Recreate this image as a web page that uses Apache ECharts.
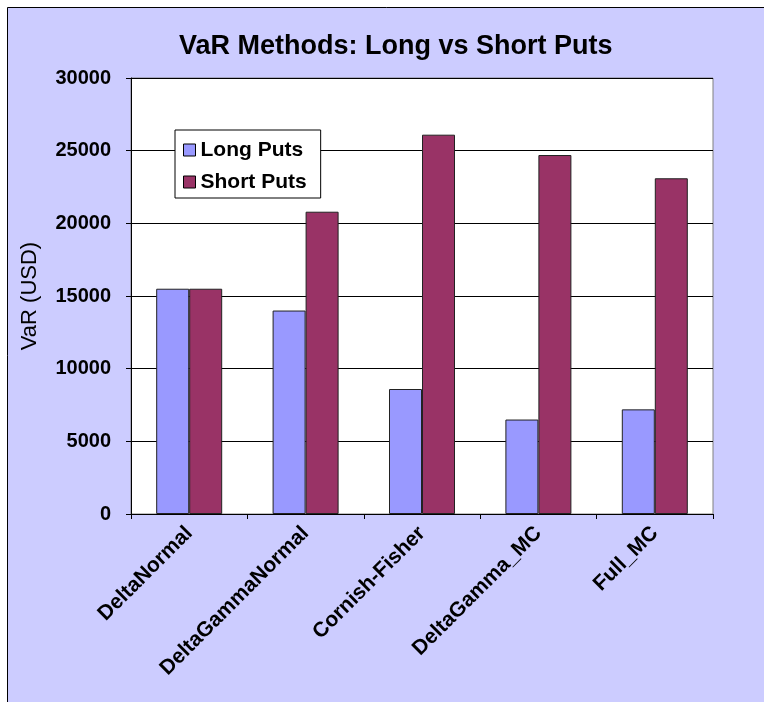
<!DOCTYPE html>
<html>
<head>
<meta charset="utf-8">
<script src="https://cdn.jsdelivr.net/npm/echarts@6/dist/echarts.min.js"></script>
<style>
  html, body { margin: 0; padding: 0; background: #fff; }
  #chart { width: 764px; height: 702px; }
</style>
</head>
<body>
<div id="chart"></div>
<script>
// 数据
var categories = ['DeltaNormal', 'DeltaGammaNormal', 'Cornish-Fisher', 'DeltaGamma_MC', 'Full_MC'];
var longPuts = [15500, 14000, 8600, 6500, 7200];
var shortPuts = [15500, 20800, 26100, 24700, 23100];
var yTicks = [0, 5000, 10000, 15000, 20000, 25000, 30000];

var myChart = echarts.init(document.getElementById('chart'));

var labelFont = 'Liberation Sans, Arial, sans-serif';

var option = {
    animation: false,
    backgroundColor: '#fff',
    // 外框 + 淡紫背景
    graphic: [{
        type: 'rect',
        z: -10,
        shape: { x: 7.5, y: 7.5, width: 900, height: 900 },
        style: { fill: '#CCCCFF', stroke: '#000', lineWidth: 1 }
    }],
    title: {
        text: 'VaR Methods: Long vs Short Puts',
        left: 174,
        top: 28,
        textStyle: {
            fontFamily: labelFont,
            fontWeight: 'bold',
            fontSize: 27,
            color: '#000'
        }
    },
    legend: {
        orient: 'vertical',
        left: 175,
        top: 130,
        data: ['Long Puts', 'Short Puts'],
        icon: 'rect',
        itemWidth: 12,
        itemHeight: 12,
        itemGap: 8,
        padding: [8, 14, 4, 8],
        backgroundColor: '#fff',
        borderColor: '#000',
        borderWidth: 1,
        borderRadius: 0,
        itemStyle: { borderColor: '#000', borderWidth: 1 },
        textStyle: {
            fontFamily: labelFont,
            fontWeight: 'bold',
            fontSize: 21,
            lineHeight: 24,
            color: '#000'
        }
    },
    grid: {
        show: true,
        left: 131,
        top: 78,
        width: 582,
        height: 436,
        backgroundColor: '#fff',
        borderColor: '#808080',
        borderWidth: 1
    },
    xAxis: {
        type: 'category',
        data: categories,
        axisLine: { lineStyle: { color: '#000', width: 1 } },
        axisTick: { show: true, length: 5, lineStyle: { color: '#000' } },
        axisLabel: {
            rotate: 45,
            margin: 16,
            interval: 0,
            fontFamily: labelFont,
            fontWeight: 'bold',
            fontSize: 21,
            color: '#000'
        }
    },
    yAxis: {
        type: 'value',
        min: yTicks[0],
        max: yTicks[yTicks.length - 1],
        interval: yTicks[1] - yTicks[0],
        name: 'VaR (USD)',
        nameLocation: 'middle',
        nameRotate: 90,
        nameGap: 90,
        nameTextStyle: {
            fontFamily: labelFont,
            fontSize: 22,
            color: '#000'
        },
        axisLine: { show: true, lineStyle: { color: '#000', width: 1 } },
        axisTick: { show: true, length: 5, lineStyle: { color: '#000' } },
        splitLine: { show: true, lineStyle: { color: '#000', width: 1 } },
        axisLabel: {
            margin: 20,
            formatter: function (v) { return String(v); },
            fontFamily: labelFont,
            fontWeight: 'bold',
            fontSize: 20,
            color: '#000'
        }
    },
    series: [{
        name: 'Long Puts',
        type: 'bar',
        data: longPuts,
        barWidth: 33,
        barGap: '0%',
        itemStyle: { color: '#9999FF', borderColor: '#222', borderWidth: 1 }
    }, {
        name: 'Short Puts',
        type: 'bar',
        data: shortPuts,
        barWidth: 33,
        barGap: '0%',
        itemStyle: { color: '#993366', borderColor: '#222', borderWidth: 1 }
    }]
};

myChart.setOption(option);
</script>
</body>
</html>
